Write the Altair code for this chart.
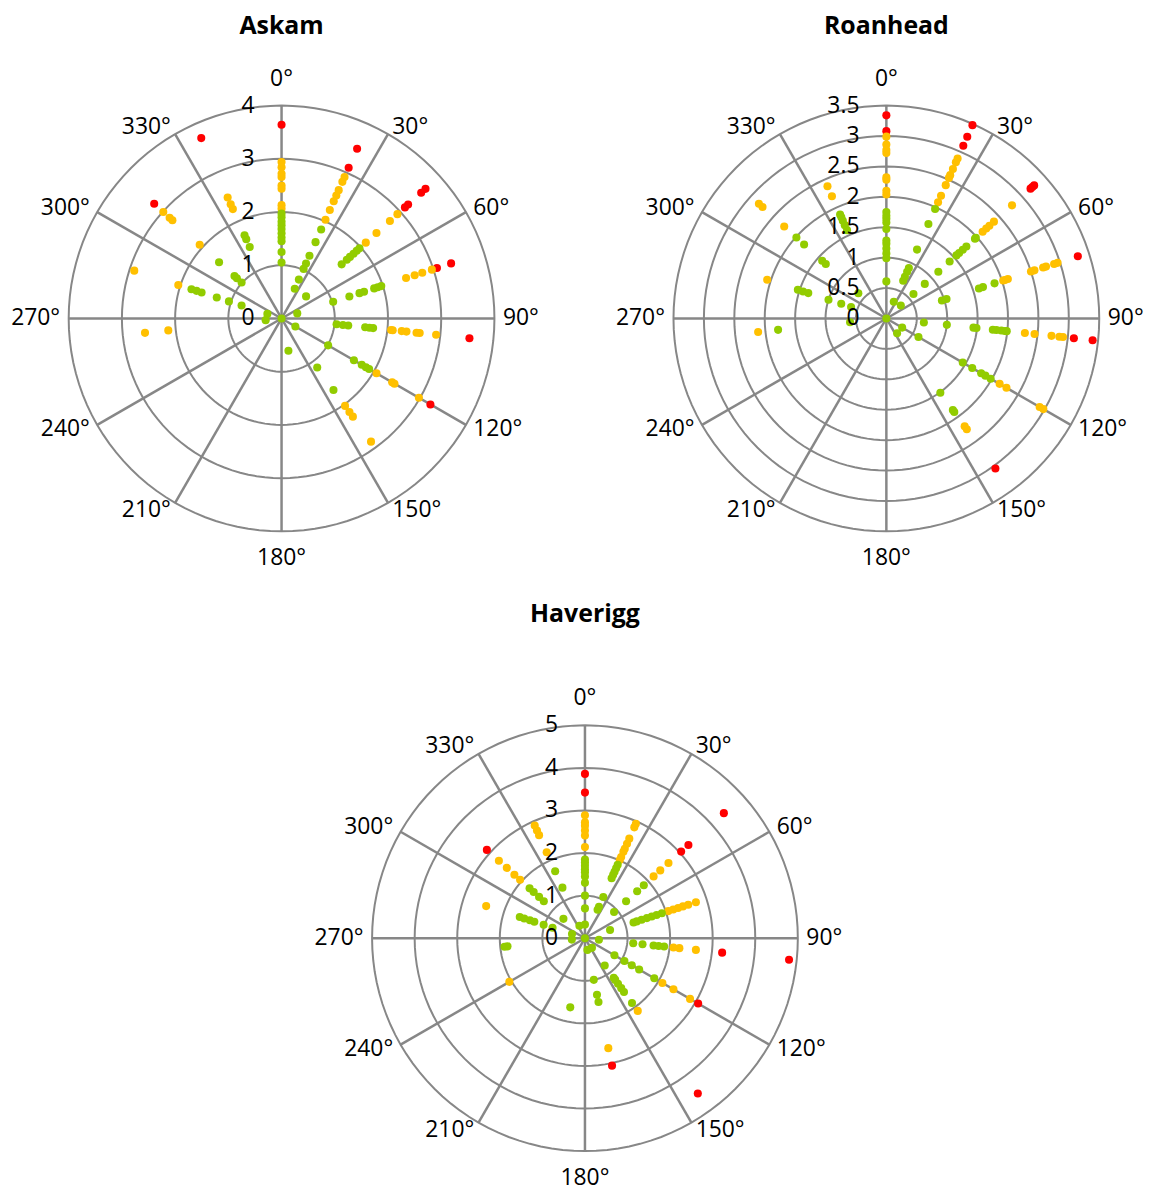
import altair as alt
import pandas as pd

# ---------------- data ----------------
ASKAM_ANGLES = [0, 24, 48, 72, 96, 120, 144, 168, 264, 288, 312, 336]
ASKAM_RADII = [
    [3.64, 2.94, 2.84, 2.72, 2.66, 2.5, 2.44, 2.13, 2.06, 1.97, 1.9, 1.82, 1.75, 1.68, 1.6, 1.52, 1.45, 1.25, 1.05, 0],
    [3.49, 3.1, 2.91, 2.81, 2.64, 2.53, 2.41, 2.23, 2.03, 1.83, 1.57, 1.29, 1.13, 1.02, 0.8, 0.61],
    [3.64, 3.53, 3.2, 3.12, 2.93, 2.74, 2.4, 2.13, 1.97, 1.9, 1.82, 1.73, 1.65, 1.52, 0.62],
    [3.35, 3.07, 2.97, 2.78, 2.63, 2.46, 1.97, 1.9, 1.83, 1.63, 1.54, 1.34, 1.02, 0.31],
    [3.55, 2.92, 2.61, 2.55, 2.36, 2.27, 2.1, 2.07, 1.73, 1.66, 1.58, 1.26, 1.16, 1.04],
    [3.23, 2.98, 2.45, 2.4, 2.06, 1.9, 1.83, 1.74, 1.57, 1.01, 0.3],
    [2.86, 2.28, 2.17, 2.03, 1.66, 1.14],
    [0.62],
    [2.58, 2.14, 0.3],
    [2.91, 2.04, 1.78, 1.68, 1.58, 1.28, 1.04, 0.79, 0.28],
    [3.22, 2.99, 2.83, 2.76, 2.07, 1.58, 1.19, 1.13, 1.01],
    [3.71, 2.49, 2.35, 2.25, 1.71, 1.63, 1.47],
]
ASKAM_TICKS = [0, 1, 2, 3, 4]
ASKAM_TICK_TEXT = ["0", "1", "2", "3", "4"]

ROAN_ANGLES = [0, 24, 48, 72, 96, 120, 144, 264, 288, 312, 336]
ROAN_RADII = [
    [3.34, 3.08, 2.99, 2.86, 2.77, 2.72, 2.32, 2.28, 2.1, 2.04, 1.75, 1.69, 1.64, 1.58, 1.47, 1.28, 1.23, 1.15, 1.07, 0.99, 0.61, 0],
    [3.48, 3.27, 3.11, 2.88, 2.81, 2.69, 2.58, 2.53, 2.4, 2.21, 2.09, 1.97, 1.7, 1.24, 0.91, 0.84, 0.75, 0.68, 0.3],
    [3.27, 3.23, 3.19, 2.78, 2.38, 2.28, 2.21, 2.13, 1.98, 1.96, 1.77, 1.69, 1.61, 1.55, 1.4, 1.15, 0.85, 0.6, 0.32],
    [3.31, 2.96, 2.9, 2.76, 2.71, 2.56, 2.5, 2.1, 2.05, 2.02, 1.87, 1.67, 1.6, 1.04, 0.96],
    [3.41, 3.1, 2.92, 2.86, 2.73, 2.45, 2.29, 1.99, 1.96, 1.9, 1.82, 1.76, 1.49, 1.44, 1.0, 0.62],
    [2.98, 2.91, 2.28, 2.15, 1.98, 1.88, 1.8, 1.63, 1.45, 0.61, 0.3],
    [3.05, 2.25, 2.19, 1.9, 1.86, 1.51, 0.3],
    [2.12, 1.79, 0.6],
    [2.06, 1.53, 1.44, 1.35, 1.0, 0.78, 0.61],
    [2.82, 2.74, 2.26, 1.99, 1.82, 1.42, 1.34, 0.62],
    [2.38, 2.2, 1.87, 1.82, 1.76, 1.68, 1.59],
]
ROAN_TICKS = [0, 0.5, 1, 1.5, 2, 2.5, 3, 3.5]
ROAN_TICK_TEXT = ["0", "0.5", "1", "1.5", "2", "2.5", "3", "3.5"]

HAV_ANGLES = [0, 24, 48, 72, 96, 120, 144, 168, 192, 240, 264, 288, 312, 336]
HAV_RADII = [
    [3.86, 3.42, 2.89, 2.72, 2.64, 2.53, 2.41, 2.14, 1.85, 1.78, 1.7, 1.62, 1.55, 1.45, 1.3, 1.0, 0.7, 0.32, 0],
    [2.94, 2.85, 2.56, 2.43, 2.3, 2.22, 2.09, 2.01, 1.89, 1.8, 1.71, 1.63, 1.54, 1.06, 0.81, 0.73],
    [4.39, 3.27, 3.04, 2.64, 2.38, 2.17, 1.86, 1.65, 1.3, 0.92],
    [2.74, 2.55, 2.42, 2.3, 2.18, 2.06, 1.9, 1.77, 1.65, 1.53, 1.4, 1.28, 1.2, 0.62],
    [4.82, 3.24, 2.62, 2.23, 2.09, 1.87, 1.74, 1.62, 1.36, 1.14, 0.33],
    [3.07, 2.85, 2.4, 2.1, 1.88, 1.47, 1.27, 1.07, 0.8],
    [4.51, 2.11, 1.88, 1.56, 1.45, 1.32, 1.21, 1.15, 0.79, 0.28],
    [3.06, 2.64, 1.53, 1.36, 1.0, 0.28],
    [1.66],
    [2.05],
    [1.9, 1.83, 0.31],
    [2.44, 1.61, 1.5, 1.36, 1.25, 1.02, 0.8, 0.32],
    [3.1, 2.72, 2.47, 2.23, 2.05, 1.75, 1.62, 1.45, 1.3, 0.68],
    [2.9, 2.77, 2.65, 2.21, 1.72, 1.3, 0.32],
]
HAV_TICKS = [0, 1, 2, 3, 4, 5]
HAV_TICK_TEXT = ["0", "1", "2", "3", "4", "5"]

SPOKE_ANGLES = [0, 30, 60, 90, 120, 150, 180, 210, 240, 270, 300, 330]
SPOKE_LABELS = ["0°", "30°", "60°", "90°", "120°", "150°", "180°",
                "210°", "240°", "270°", "300°", "330°"]

# ---------------- style ----------------
PX = 214.0  # pixels of the outer ring radius
GREEN = "#92CC00"
ORANGE = "#FFC000"
RED = "#FF0000"
GRID = "#878787"
FONT = "Open Sans"
LABEL_SIZE = 23


def panel(title, angles, radii, ticks, tick_text, left, right, top, bottom, title_y):
    rmax = float(ticks[-1])
    xs = alt.Scale(domain=[-left / PX, right / PX], nice=False, zero=False)
    ys = alt.Scale(domain=[-bottom / PX, top / PX], nice=False, zero=False)

    def X(f):
        return alt.X(f, type="quantitative", scale=xs, axis=None)

    def Y(f):
        return alt.Y(f, type="quantitative", scale=ys, axis=None)

    rings = [t for t in ticks if t > 0]
    ring_df = pd.DataFrame([(r, d) for r in rings for d in range(0, 361, 3)],
                           columns=["ring", "deg"])
    ring_layer = alt.Chart(ring_df).transform_calculate(
        x=f"datum.ring/{rmax}*sin(datum.deg*PI/180)",
        y=f"datum.ring/{rmax}*cos(datum.deg*PI/180)",
    ).mark_line(color=GRID, strokeWidth=2).encode(
        x=X("x"), y=Y("y"), detail="ring:N", order="deg:Q"
    )

    spoke_df = pd.DataFrame({"angle": SPOKE_ANGLES, "label": SPOKE_LABELS})
    spokes = alt.Chart(spoke_df).transform_calculate(
        x0="0", y0="0",
        x1="sin(datum.angle*PI/180)", y1="cos(datum.angle*PI/180)",
    ).mark_rule(color=GRID, strokeWidth=2.5).encode(
        x=X("x0"), y=Y("y0"), x2="x1:Q", y2="y1:Q"
    )

    lab_base = alt.Chart(spoke_df).transform_calculate(
        s="sin(datum.angle*PI/180)", c="cos(datum.angle*PI/180)"
    ).transform_calculate(
        lx="1.04*datum.s",
        ly="1.04*datum.c + (abs(datum.s) < 0.01 ? (datum.c > 0 ? 0.086 : -0.086) : 0)",
    )
    lab_kw = dict(fontSize=LABEL_SIZE, font=FONT, color="black", baseline="middle")
    lab_r = lab_base.transform_filter("datum.s > 0.01").mark_text(align="left", **lab_kw).encode(
        x=X("lx"), y=Y("ly"), text="label:N")
    lab_l = lab_base.transform_filter("datum.s < -0.01").mark_text(align="right", **lab_kw).encode(
        x=X("lx"), y=Y("ly"), text="label:N")
    lab_c = lab_base.transform_filter("abs(datum.s) <= 0.01").mark_text(align="center", **lab_kw).encode(
        x=X("lx"), y=Y("ly"), text="label:N")

    tick_df = pd.DataFrame({"v": ticks, "t": tick_text})
    tick_layer = alt.Chart(tick_df).transform_calculate(
        x=f"-27/{PX}", y=f"datum.v/{rmax}"
    ).mark_text(align="right", baseline="middle", fontSize=LABEL_SIZE, font=FONT,
                color="black").encode(
        x=X("x"), y=Y("y"), text="t:N"
    )

    pts_df = pd.DataFrame([(a, r) for a, rs in zip(angles, radii) for r in rs],
                          columns=["angle", "value"])
    pts = alt.Chart(pts_df).transform_calculate(
        px=f"datum.value/{rmax}*sin(datum.angle*PI/180)",
        py=f"datum.value/{rmax}*cos(datum.angle*PI/180)",
    ).mark_circle(size=66, opacity=1).encode(
        x=X("px"), y=Y("py"),
        color=alt.Color("value:Q", legend=None,
                        scale=alt.Scale(type="threshold", domain=[2, 3],
                                        range=[GREEN, ORANGE, RED])),
    )

    title_df = pd.DataFrame({"t": [title]})
    title_layer = alt.Chart(title_df).transform_calculate(
        x="0", y=f"{title_y}"
    ).mark_text(align="center", baseline="middle", fontSize=25, fontWeight="bold",
                font=FONT, color="black").encode(x=X("x"), y=Y("y"), text="t:N")

    return alt.layer(ring_layer, spokes, pts, tick_layer, lab_r, lab_l, lab_c, title_layer).properties(
        width=left + right, height=top + bottom
    )


askam = panel("Askam", ASKAM_ANGLES, ASKAM_RADII, ASKAM_TICKS, ASKAM_TICK_TEXT,
              275, 274, 309, 261, 294 / PX)
roan = panel("Roanhead", ROAN_ANGLES, ROAN_RADII, ROAN_TICKS, ROAN_TICK_TEXT,
             274, 259, 309, 261, 294 / PX)
hav = panel("Haverigg", HAV_ANGLES, HAV_RADII, HAV_TICKS, HAV_TICK_TEXT,
            580, 562, 352, 251, 326 / PX)

top_row = alt.hconcat(askam, roan, spacing=60)
chart = alt.vconcat(top_row, hav, spacing=10).properties(padding=0).configure_view(strokeWidth=0)

chart.save("out.html", embed_options={"renderer": "svg", "actions": False})
